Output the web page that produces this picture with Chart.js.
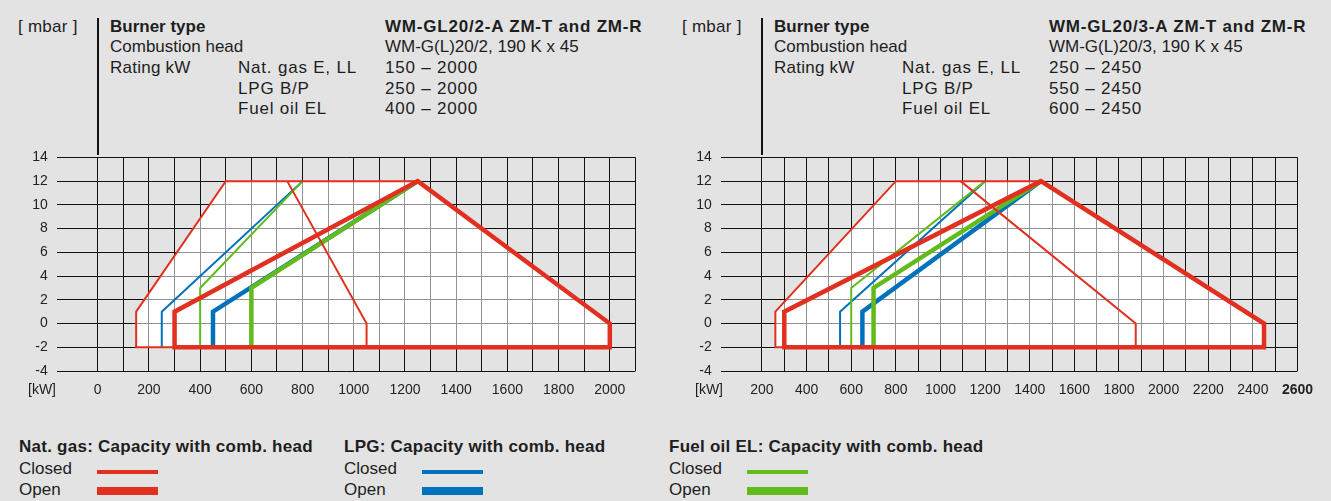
<!DOCTYPE html>
<html>
<head>
<meta charset="utf-8">
<script src="https://cdn.jsdelivr.net/npm/chart.js@4.4.1/dist/chart.umd.min.js"></script>
<style>
  html, body { margin: 0; padding: 0; background: #e3e3e3; }
  #page { position: relative; width: 1331px; height: 501px; overflow: hidden;
          font-family: "Liberation Sans", Arial, sans-serif; color: #1e1e1e; }
  .t { position: absolute; font-size: 17px; line-height: 20px; white-space: nowrap; }
  .b { font-weight: bold; }
  .wide { letter-spacing: 0.8px; }
  .sp { letter-spacing: 0.25px; }
  .kw { font-size: 14px; }
  canvas { position: absolute; }
  .axis { position: absolute; width: 2px; background: #111; }
  .key { position: absolute; width: 61px; }
</style>
</head>
<body>
<div id="page">
  <canvas id="chartGL2" width="660" height="270" style="left:0;top:140px"></canvas>
  <canvas id="chartGL3" width="666" height="270" style="left:665px;top:140px"></canvas>
</div>

<script>
// ─── DATOS ────────────────────────────────────────────────────────────────
// Puntos [kW, mbar]
const yTicks = [-4, -2, 0, 2, 4, 6, 8, 10, 12, 14];

// WM-GL20/2-A ZM-T / ZM-R
const gl2XTicks = [0, 100, 200, 300, 400, 500, 600, 700, 800, 900, 1000,
                   1100, 1200, 1300, 1400, 1500, 1600, 1700, 1800, 1900, 2000, 2100];
const gl2Range      = [[150, -2], [150, 1], [500, 12], [1250, 12], [2000, 0], [2000, -2]];
const gl2GasClosed  = [[1050, -2], [150, -2], [150, 1], [500, 12], [1250, 12]];
const gl2GasClosedB = [[740, 12], [1050, 0], [1050, -2]];
const gl2GasOpen    = [[300, -2], [300, 1], [1250, 12], [2000, 0], [2000, -2], [300, -2]];
const gl2LpgClosed  = [[250, -2], [250, 1], [800, 12]];
const gl2LpgOpen    = [[450, -2], [450, 1], [1250, 12]];
const gl2OilClosed  = [[400, -2], [400, 3], [800, 12]];
const gl2OilOpen    = [[600, -2], [600, 3], [1250, 12]];

// WM-GL20/3-A ZM-T / ZM-R
const gl3XTicks = [200, 300, 400, 500, 600, 700, 800, 900, 1000, 1100, 1200, 1300, 1400,
                   1500, 1600, 1700, 1800, 1900, 2000, 2100, 2200, 2300, 2400, 2500, 2600];
const gl3Range      = [[260, -2], [260, 1], [800, 12], [1450, 12], [2450, 0], [2450, -2]];
const gl3GasClosed  = [[1875, -2], [260, -2], [260, 1], [800, 12], [1450, 12]];
const gl3GasClosedB = [[1090, 12], [1875, 0], [1875, -2]];
const gl3GasOpen    = [[300, -2], [300, 1], [1450, 12], [2450, 0], [2450, -2], [300, -2]];
const gl3LpgClosed  = [[550, -2], [550, 1], [1200, 12]];
const gl3LpgOpen    = [[650, -2], [650, 1], [1450, 12]];
const gl3OilClosed  = [[600, -2], [600, 3], [1200, 12]];
const gl3OilOpen    = [[700, -2], [700, 3], [1450, 12]];

// Textos
const gl2Header = {
  type: "WM-GL20/2-A ZM-T and ZM-R",
  head: "WM-G(L)20/2, 190 K x 45",
  ratings: ["150 – 2000", "250 – 2000", "400 – 2000"]
};
const gl3Header = {
  type: "WM-GL20/3-A ZM-T and ZM-R",
  head: "WM-G(L)20/3, 190 K x 45",
  ratings: ["250 – 2450", "550 – 2450", "600 – 2450"]
};
const fuels = ["Nat. gas E, LL", "LPG B/P", "Fuel oil EL"];
const legendTitles = ["Nat. gas: Capacity with comb. head",
                      "LPG: Capacity with comb. head",
                      "Fuel oil EL: Capacity with comb. head"];

// ─── ESTILO ───────────────────────────────────────────────────────────────
const RED = "#e1301f", BLUE = "#0072bb", GREEN = "#62bb1c";
const THIN = 2, THICK = 4.5;

Chart.defaults.font.family = '"Liberation Sans", Arial, sans-serif';
Chart.defaults.font.size = 14;
Chart.defaults.color = "#222";

// Relleno blanco del campo de trabajo: opaco bajo la rejilla, translúcido encima
function paintEnvelope(chart, color) {
  const pts = chart.getDatasetMeta(0).data;
  const ctx = chart.ctx;
  ctx.save();
  ctx.fillStyle = color;
  ctx.beginPath();
  pts.forEach((p, i) => i ? ctx.lineTo(p.x, p.y) : ctx.moveTo(p.x, p.y));
  ctx.closePath();
  ctx.fill();
  ctx.restore();
}
const envelopePlugin = {
  id: "envelope",
  beforeDraw(chart)         { paintEnvelope(chart, "#ffffff"); },
  beforeDatasetsDraw(chart) { paintEnvelope(chart, "rgba(255,255,255,0.55)"); }
};

const pts = arr => arr.map(([x, y]) => ({ x, y }));

function line(data, color, width, order, cap) {
  return {
    data: pts(data),
    showLine: true,
    borderColor: color,
    borderWidth: width,
    borderJoinStyle: "miter",
    borderCapStyle: cap || "butt",
    pointRadius: 0,
    order
  };
}

function makeChart(id, s) {
  return new Chart(document.getElementById(id), {
    type: "scatter",
    data: {
      datasets: [
        { data: pts(s.range), showLine: false, pointRadius: 0, order: 10 },
        line(s.lpgClosed, BLUE, THIN, 7),
        line(s.oilClosed, GREEN, THIN, 6),
        line(s.lpgOpen, BLUE, THICK, 5),
        line(s.oilOpen, GREEN, THICK, 4),
        line(s.gasClosed, RED, THIN, 3),
        line(s.gasClosedB, RED, THIN, 3),
        line(s.gasOpen, RED, THICK, 1, "square")
      ]
    },
    options: {
      responsive: false,
      animation: false,
      devicePixelRatio: 1,
      layout: { padding: { top: 15, right: s.padRight, left: 0, bottom: 0 } },
      plugins: { legend: { display: false }, tooltip: { enabled: false } },
      scales: {
        x: {
          type: "linear",
          min: s.xMin,
          max: s.xMax,
          afterBuildTicks: a => { a.ticks = s.xTicks.map(v => ({ value: v })); },
          afterFit: a => { a.height = 39; },
          grid: { color: "#111", lineWidth: 1, drawTicks: false },
          border: { display: false },
          ticks: {
            padding: 11,
            autoSkip: false,
            maxRotation: 0,
            callback: v => v % 200 === 0 ? String(v) : "",
            font: c => (c.tick && c.tick.value === s.boldTick) ? { weight: "bold" } : {}
          }
        },
        y: {
          min: -4,
          max: 14,
          afterBuildTicks: a => { a.ticks = yTicks.map(v => ({ value: v })); },
          afterFit: a => { a.width = s.yWidth; },
          grid: { color: "#111", lineWidth: 1, drawTicks: false },
          border: { display: false },
          ticks: { padding: 9 }
        }
      }
    },
    plugins: [envelopePlugin]
  });
}

makeChart("chartGL2", {
  xMin: -160, xMax: 2100, xTicks: gl2XTicks, yWidth: 56.8, padRight: 24.6, boldTick: null,
  range: gl2Range, gasClosed: gl2GasClosed, gasClosedB: gl2GasClosedB, gasOpen: gl2GasOpen,
  lpgClosed: gl2LpgClosed, lpgOpen: gl2LpgOpen, oilClosed: gl2OilClosed, oilOpen: gl2OilOpen
});
makeChart("chartGL3", {
  xMin: 15, xMax: 2600, xTicks: gl3XTicks, yWidth: 55.7, padRight: 33.5, boldTick: 2600,
  range: gl3Range, gasClosed: gl3GasClosed, gasClosedB: gl3GasClosedB, gasOpen: gl3GasOpen,
  lpgClosed: gl3LpgClosed, lpgOpen: gl3LpgOpen, oilClosed: gl3OilClosed, oilOpen: gl3OilOpen
});

// ─── TEXTOS Y LEYENDA ─────────────────────────────────────────────────────
const page = document.getElementById("page");
function text(str, x, yc, cls) {
  const d = document.createElement("div");
  d.className = "t" + (cls ? " " + cls : "");
  d.textContent = str;
  d.style.left = x + "px";
  d.style.top = (yc - 10) + "px";
  page.appendChild(d);
  return d;
}
function header(h, dx, axisX) {
  text("[ mbar ]", 18 + dx, 27, "sp");
  text("Burner type", 110 + dx, 27, "b");
  text(h.type, 385 + dx, 27, "b wide");
  text("Combustion head", 110 + dx, 47);
  text(h.head, 385 + dx, 47);
  text("Rating kW", 110 + dx, 68, "sp");
  fuels.forEach((f, i) => {
    text(f, 238 + dx, 68 + i * 20.5, "wide");
    text(h.ratings[i], 385 + dx, 68 + i * 20.5, "wide");
  });
  const ax = document.createElement("div");
  ax.className = "axis";
  ax.style.left = axisX + "px";
  ax.style.top = "18px";
  ax.style.height = "137px";
  page.appendChild(ax);
}
header(gl2Header, 0, 97);
header(gl3Header, 664, 761);

text("[kW]", 28, 389, "kw");
text("[kW]", 695, 389, "kw");

[RED, BLUE, GREEN].forEach((c, i) => {
  const x = 19 + i * 325;
  text(legendTitles[i], x, 447, "b sp");
  text("Closed", x, 469);
  text("Open", x, 490);
  [[470, 4], [487, 8]].forEach(([top, h]) => {
    const k = document.createElement("div");
    k.className = "key";
    k.style.left = (x + 78) + "px";
    k.style.top = top + "px";
    k.style.height = h + "px";
    k.style.background = c;
    page.appendChild(k);
  });
});
</script>
</body>
</html>
